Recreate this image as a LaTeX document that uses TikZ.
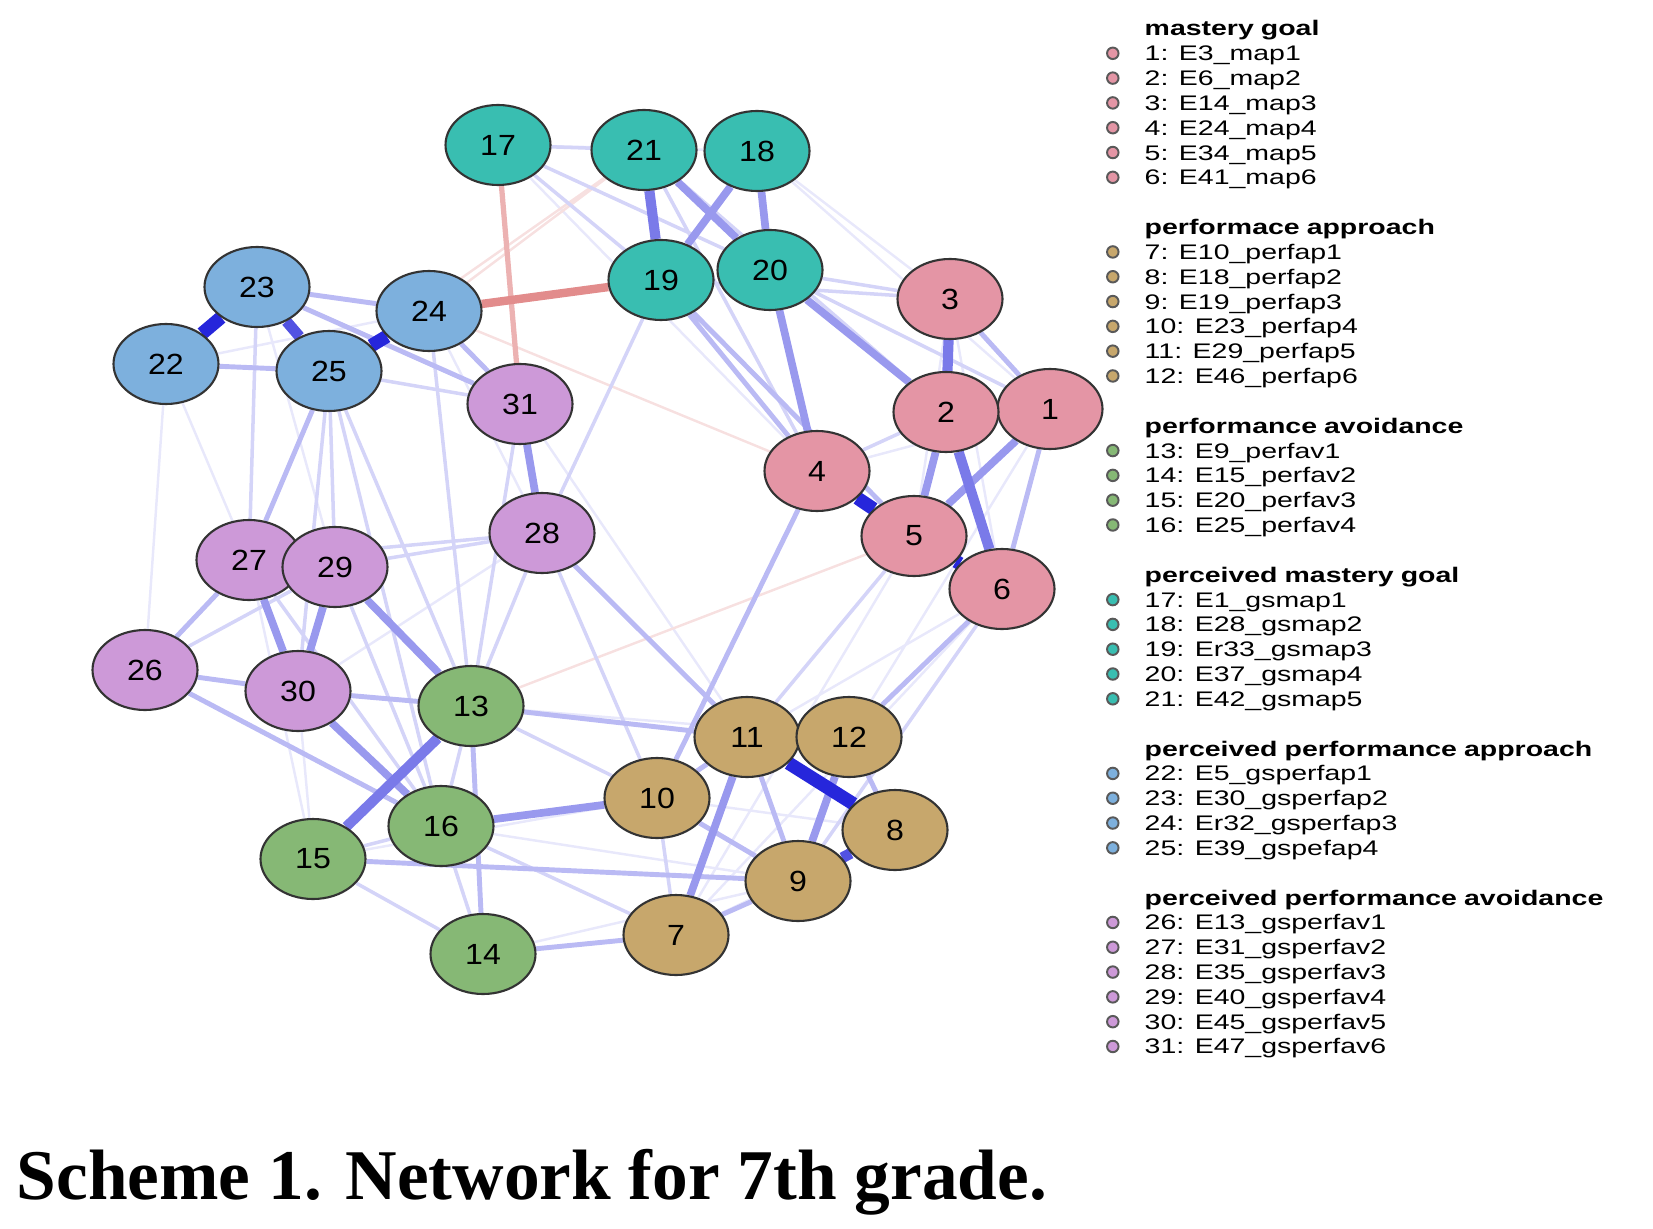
\documentclass[tikz,border=0pt]{standalone}
\usepackage{fontspec}
\setmainfont{Liberation Serif}
\newfontfamily\numfont[FakeStretch=1.1]{Liberation Sans}
\newfontfamily\legfont[FakeStretch=1.35]{Liberation Sans}
\usetikzlibrary{shapes.geometric,positioning,backgrounds}
\definecolor{mgcol}{HTML}{E495A5}
\definecolor{pacol}{HTML}{C7A76C}
\definecolor{pvcol}{HTML}{86B875}
\definecolor{gmcol}{HTML}{39BEB1}
\definecolor{gacol}{HTML}{7DB0DD}
\definecolor{gvcol}{HTML}{CD99D8}
\definecolor{posc}{HTML}{0000D5}
\definecolor{negc}{HTML}{BF0000}
\tikzset{
    varnode/.style={ellipse, draw=black!80, line width=0.6pt, minimum width=1.05cm, minimum height=0.8cm, inner sep=0pt, font=\numfont\fontsize{8.3}{9}\selectfont},
    mg/.style={varnode, fill=mgcol},
    pa/.style={varnode, fill=pacol},
    pv/.style={varnode, fill=pvcol},
    gm/.style={varnode, fill=gmcol},
    ga/.style={varnode, fill=gacol},
    gv/.style={varnode, fill=gvcol},
    e1/.style={draw=posc!9, line width=0.7pt},
    e2/.style={draw=posc!17, line width=1pt},
    e3/.style={draw=posc!27, line width=1.4pt},
    e4/.style={draw=posc!40, line width=2.2pt},
    e5/.style={draw=posc!52, line width=2.9pt},
    e6/.style={draw=posc!68, line width=3.1pt},
    e7/.style={draw=posc!85, line width=3.8pt},
    n1/.style={draw=negc!12, line width=0.7pt},
    n2/.style={draw=negc!30, line width=1.5pt},
    n3/.style={draw=negc!45, line width=2.4pt},
    legtext/.style={text width=5cm, align=left, inner sep=0pt, text height=0.15cm, text depth=0pt, font=\legfont\fontsize{6}{7}\selectfont},
    legtitle/.style={legtext, font=\legfont\bfseries\fontsize{6}{7}\selectfont},
    legdot/.style={circle, draw=black!65, line width=0.55pt, fill=#1, minimum size=0.115cm, inner sep=0pt},
    legitem/.style={legtext, label={[legdot=#1, label distance=0.245cm]left:{}}},
}
\begin{document}
\begin{tikzpicture}[x=0.1mm, y=-0.1mm, node distance=0.084cm]
        \useasboundingbox (0,0) rectangle (1653,1229);
        \node[mg] (v1) at (1050,409) {1};
        \node[mg] (v2) at (946,412) {2};
        \node[mg] (v3) at (950,299) {3};
        \node[mg] (v4) at (817,471) {4};
        \node[mg] (v5) at (914,536) {5};
        \node[mg] (v6) at (1002,589) {6};
        \node[pa] (v7) at (676,935) {7};
        \node[pa] (v8) at (895,830) {8};
        \node[pa] (v9) at (798,881) {9};
        \node[pa] (v10) at (657,798) {10};
        \node[pa] (v11) at (747,737) {11};
        \node[pa] (v12) at (849,737) {12};
        \node[pv] (v13) at (471,706) {13};
        \node[pv] (v14) at (483,954) {14};
        \node[pv] (v15) at (313,859) {15};
        \node[pv] (v16) at (441,826) {16};
        \node[gm] (v17) at (498,145) {17};
        \node[gm] (v18) at (757,151) {18};
        \node[gm] (v19) at (661,280) {19};
        \node[gm] (v20) at (770,270) {20};
        \node[gm] (v21) at (644,150) {21};
        \node[ga] (v22) at (166,364) {22};
        \node[ga] (v23) at (257,287) {23};
        \node[ga] (v24) at (429,311) {24};
        \node[ga] (v25) at (329,371) {25};
        \node[gv] (v26) at (145,670) {26};
        \node[gv] (v27) at (249,560) {27};
        \node[gv] (v28) at (542,533) {28};
        \node[gv] (v29) at (335,567) {29};
        \node[gv] (v30) at (298,691) {30};
        \node[gv] (v31) at (520,404) {31};
        \begin{scope}[on background layer]
        \draw[e1] (v4) -- (v6) (v3) -- (v6) (v3) -- (v5) (v4) -- (v1) (v17) -- (v18) (v22) -- (v24)
            (v22) -- (v26) (v22) -- (v27) (v23) -- (v29) (v30) -- (v28) (v10) -- (v8) (v7) -- (v8)
            (v27) -- (v15) (v30) -- (v15) (v16) -- (v9) (v14) -- (v9) (v15) -- (v10) (v13) -- (v12)
            (v18) -- (v3) (v18) -- (v1) (v17) -- (v4) (v31) -- (v11) (v6) -- (v11) (v1) -- (v12)
            (v5) -- (v7) (v6) -- (v7) (v24) -- (v28);
        \draw[n1] (v24) -- (v4) (v24) -- (v21) (v5) -- (v13) (v25) -- (v21);
        \draw[e2] (v4) -- (v2) (v17) -- (v21) (v17) -- (v19) (v17) -- (v20) (v26) -- (v29) (v27) -- (v28)
            (v29) -- (v28) (v13) -- (v16) (v16) -- (v14) (v15) -- (v16) (v15) -- (v14) (v10) -- (v7)
            (v25) -- (v31) (v23) -- (v27) (v25) -- (v29) (v25) -- (v30) (v25) -- (v13) (v25) -- (v16)
            (v24) -- (v13) (v27) -- (v16) (v29) -- (v16) (v28) -- (v13) (v28) -- (v10) (v31) -- (v13)
            (v13) -- (v10) (v16) -- (v7) (v20) -- (v3) (v20) -- (v1) (v21) -- (v4) (v21) -- (v2)
            (v19) -- (v3) (v19) -- (v28) (v6) -- (v9) (v5) -- (v11);
        \draw[e3] (v1) -- (v6) (v3) -- (v1) (v23) -- (v24) (v22) -- (v25) (v26) -- (v30) (v26) -- (v27)
            (v13) -- (v14) (v12) -- (v8) (v11) -- (v9) (v7) -- (v9) (v10) -- (v9) (v10) -- (v11)
            (v23) -- (v31) (v24) -- (v31) (v25) -- (v27) (v30) -- (v13) (v26) -- (v16) (v28) -- (v11)
            (v13) -- (v11) (v15) -- (v9) (v14) -- (v7) (v19) -- (v4) (v19) -- (v5) (v4) -- (v10)
            (v6) -- (v12);
        \draw[n2] (v17) -- (v31);
        \draw[e4] (v31) -- (v28) (v27) -- (v30) (v29) -- (v30) (v21) -- (v20) (v18) -- (v19) (v18) -- (v20)
            (v16) -- (v10) (v2) -- (v5) (v1) -- (v5) (v9) -- (v12) (v11) -- (v7) (v29) -- (v13)
            (v30) -- (v16) (v20) -- (v4) (v20) -- (v2);
        \draw[n3] (v24) -- (v19);
        \draw[e5] (v21) -- (v19) (v13) -- (v15) (v3) -- (v2) (v2) -- (v6);
        \draw[e6] (v23) -- (v25) (v8) -- (v9);
        \draw[e7] (v22) -- (v23) (v24) -- (v25) (v4) -- (v5) (v5) -- (v6) (v11) -- (v8);
        \end{scope}
        \node[legtitle, anchor=west] (t1) at (1144,28.5) {mastery goal};
        \node[legitem=mgcol, below=of t1] (l1) {1: E3\_map1};
        \node[legitem=mgcol, below=of l1] (l2) {2: E6\_map2};
        \node[legitem=mgcol, below=of l2] (l3) {3: E14\_map3};
        \node[legitem=mgcol, below=of l3] (l4) {4: E24\_map4};
        \node[legitem=mgcol, below=of l4] (l5) {5: E34\_map5};
        \node[legitem=mgcol, below=of l5] (l6) {6: E41\_map6};
        \node[legtitle, below=0.334cm of l6] (t2) {performace approach};
        \node[legitem=pacol, below=of t2] (l7) {7: E10\_perfap1};
        \node[legitem=pacol, below=of l7] (l8) {8: E18\_perfap2};
        \node[legitem=pacol, below=of l8] (l9) {9: E19\_perfap3};
        \node[legitem=pacol, below=of l9] (l10) {10: E23\_perfap4};
        \node[legitem=pacol, below=of l10] (l11) {11: E29\_perfap5};
        \node[legitem=pacol, below=of l11] (l12) {12: E46\_perfap6};
        \node[legtitle, below=0.334cm of l12] (t3) {performance avoidance};
        \node[legitem=pvcol, below=of t3] (l13) {13: E9\_perfav1};
        \node[legitem=pvcol, below=of l13] (l14) {14: E15\_perfav2};
        \node[legitem=pvcol, below=of l14] (l15) {15: E20\_perfav3};
        \node[legitem=pvcol, below=of l15] (l16) {16: E25\_perfav4};
        \node[legtitle, below=0.334cm of l16] (t4) {perceived mastery goal};
        \node[legitem=gmcol, below=of t4] (l17) {17: E1\_gsmap1};
        \node[legitem=gmcol, below=of l17] (l18) {18: E28\_gsmap2};
        \node[legitem=gmcol, below=of l18] (l19) {19: Er33\_gsmap3};
        \node[legitem=gmcol, below=of l19] (l20) {20: E37\_gsmap4};
        \node[legitem=gmcol, below=of l20] (l21) {21: E42\_gsmap5};
        \node[legtitle, below=0.334cm of l21] (t5) {perceived performance approach};
        \node[legitem=gacol, below=of t5] (l22) {22: E5\_gsperfap1};
        \node[legitem=gacol, below=of l22] (l23) {23: E30\_gsperfap2};
        \node[legitem=gacol, below=of l23] (l24) {24: Er32\_gsperfap3};
        \node[legitem=gacol, below=of l24] (l25) {25: E39\_gspefap4};
        \node[legtitle, below=0.334cm of l25] (t6) {perceived performance avoidance};
        \node[legitem=gvcol, below=of t6] (l26) {26: E13\_gsperfav1};
        \node[legitem=gvcol, below=of l26] (l27) {27: E31\_gsperfav2};
        \node[legitem=gvcol, below=of l27] (l28) {28: E35\_gsperfav3};
        \node[legitem=gvcol, below=of l28] (l29) {29: E40\_gsperfav4};
        \node[legitem=gvcol, below=of l29] (l30) {30: E45\_gsperfav5};
        \node[legitem=gvcol, below=of l30] (l31) {31: E47\_gsperfav6};
        \node[anchor=base west, inner sep=0pt, font=\bfseries\fontsize{20.3}{24}\selectfont] (cap) at (16,1199) {Scheme 1. Network for 7th grade.};
\end{tikzpicture}
\end{document}
